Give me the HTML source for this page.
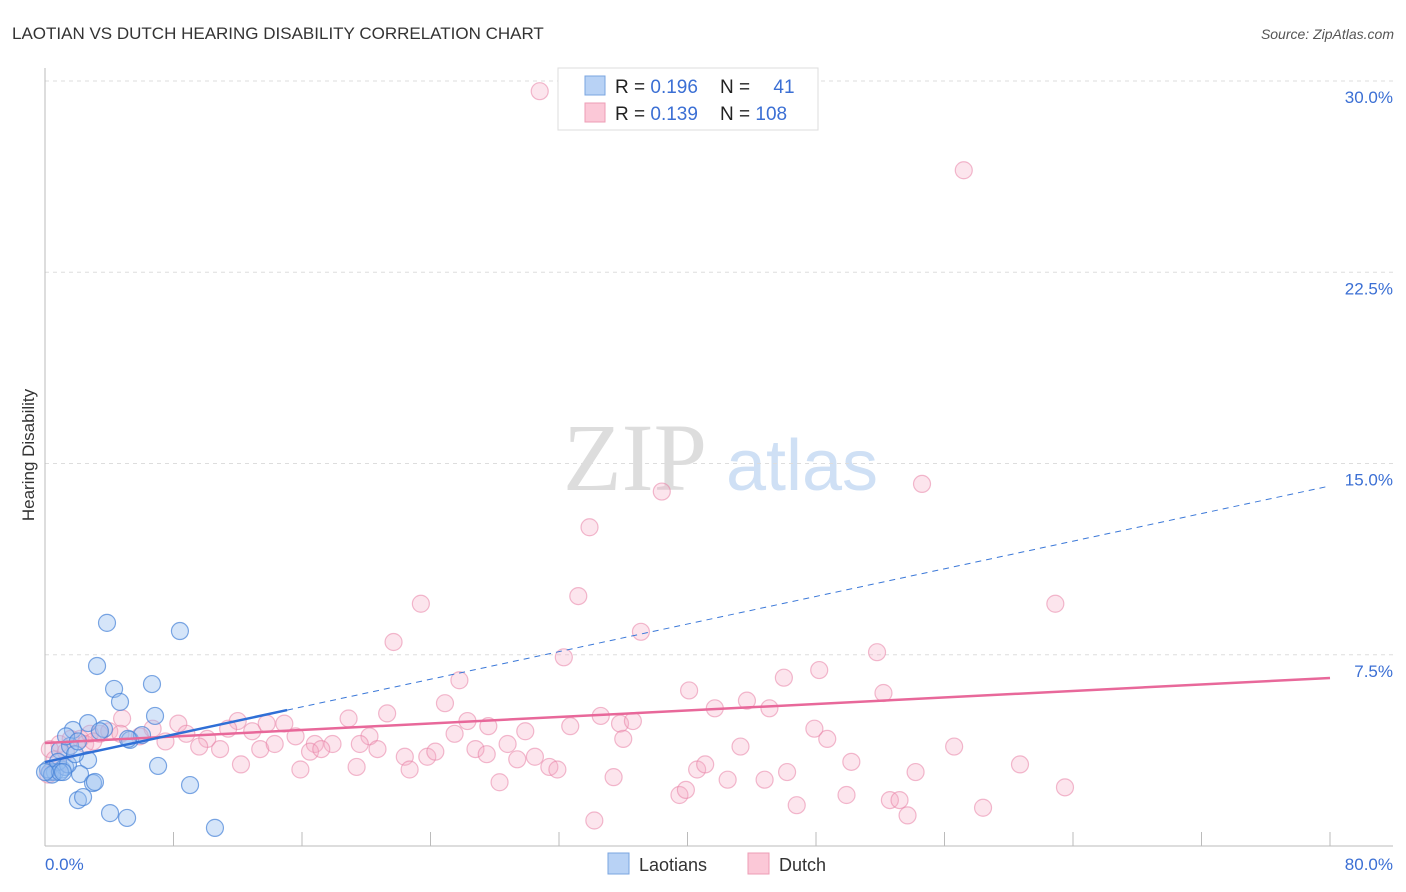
<!DOCTYPE html>
<html><head><meta charset="utf-8"><style>
body{margin:0;background:#fff;font-family:"Liberation Sans",sans-serif}
svg{display:block}
</style></head><body>
<svg id="chart" width="1406" height="892" viewBox="0 0 1406 892">
<text x="12" y="39" font-size="17" fill="#333">LAOTIAN VS DUTCH HEARING DISABILITY CORRELATION CHART</text>
<text x="1394" y="39" font-size="14" fill="#555" font-style="italic" text-anchor="end">Source: ZipAtlas.com</text>
<g>
<text x="635" y="490" font-size="96" fill="#ddd" font-family="Liberation Serif,serif" text-anchor="middle">ZIP</text>
<text x="802" y="490" font-size="72" fill="#cfe0f5" text-anchor="middle">atlas</text>
</g>
<g id="grid"></g>
<g id="pts"></g>
<g id="lines"></g>
<text transform="translate(34,455) rotate(-90)" font-size="17" fill="#333" text-anchor="middle">Hearing Disability</text>
<text x="45" y="870" font-size="17" fill="#3b6fd4">0.0%</text>
<text x="1393" y="870" font-size="17" fill="#3b6fd4" text-anchor="end">80.0%</text>
<g>
<rect x="558" y="68" width="260" height="62" fill="#fff" stroke="#ddd"/>
<rect x="585" y="76" width="20" height="19" fill="#b8d2f5" stroke="#7aa5e0"/>
<rect x="585" y="103" width="20" height="19" fill="#fbc8d7" stroke="#ee9db5"/>
<text x="615" y="93" font-size="19" fill="#222">R = <tspan fill="#3b6fd4">0.196</tspan></text>
<text x="720" y="93" font-size="19" fill="#222">N = <tspan fill="#3b6fd4" dx="18">41</tspan></text>
<text x="615" y="120" font-size="19" fill="#222">R = <tspan fill="#3b6fd4">0.139</tspan></text>
<text x="720" y="120" font-size="19" fill="#222">N = <tspan fill="#3b6fd4">108</tspan></text>
</g>
<g>
<rect x="608" y="853" width="21" height="21" fill="#b8d2f5" stroke="#7aa5e0"/>
<text x="639" y="871" font-size="18" fill="#333">Laotians</text>
<rect x="748" y="853" width="21" height="21" fill="#fbc8d7" stroke="#ee9db5"/>
<text x="779" y="871" font-size="18" fill="#333">Dutch</text>
</g>
</svg>
<script>
const yTicks=[7.5,15,22.5,30];
const yTickLabels=["7.5%","15.0%","22.5%","30.0%"];
const xTicks=[0,8,16,24,32,40,48,56,64,72,80];
const blueX=[3.86,8.40,3.24,4.30,6.66,4.67,6.85,1.74,2.68,3.67,0.93,1.56,2.68,5.29,6.04,7.04,2.18,2.99,3.11,9.03,2.05,2.37,4.05,5.11,10.58,0.31,0.62,1.06,1.25,0.19,0.81,1.43,1.87,1.31,5.17,3.42,2.05,0.44,0.93,0.0,1.12];
const blueY=[8.75,8.43,7.06,6.16,6.35,5.65,5.10,4.55,4.82,4.59,3.76,3.92,3.37,4.16,4.35,3.14,2.82,2.47,2.51,2.39,1.80,1.92,1.29,1.10,0.71,2.9,2.9,3.0,3.1,3.0,3.3,3.2,3.6,4.3,4.2,4.5,4.1,2.8,2.9,2.9,2.9];
const pinkX=[30.8,57.2,38.4,54.6,33.9,33.2,23.4,62.9,37.1,21.7,32.3,51.8,48.2,25.8,46.0,40.1,52.2,24.9,43.7,41.7,45.1,4.8,21.3,34.6,8.3,12.0,13.8,14.9,18.9,26.3,27.6,32.7,35.8,36.6,29.9,47.9,6.7,8.8,10.1,11.4,12.9,15.6,16.8,17.9,20.2,25.5,26.8,28.8,36.0,48.7,56.6,43.3,9.6,10.9,13.4,14.3,16.5,17.2,19.6,20.7,22.4,23.8,24.3,27.5,30.5,29.4,31.4,31.9,50.2,60.7,12.2,15.9,19.4,22.7,40.6,41.1,35.4,42.5,44.8,46.2,54.2,28.3,39.5,39.9,46.8,49.9,52.6,53.2,53.7,58.4,63.5,34.2,0.9,1.6,2.2,2.8,3.4,4.0,4.7,5.9,7.5,0.3,0.6,0.2,0.8,1.3,2.5,3.0];
const pinkY=[29.6,26.5,13.9,14.2,12.5,9.8,9.5,9.5,8.4,8.0,7.4,7.6,6.9,6.5,6.6,6.1,6.0,5.6,5.7,5.4,5.4,5.0,5.2,5.1,4.8,4.9,4.8,4.8,5.0,4.9,4.7,4.7,4.8,4.9,4.5,4.6,4.6,4.4,4.2,4.6,4.5,4.3,4.0,4.0,4.3,4.4,3.8,4.0,4.2,4.2,3.9,3.9,3.9,3.8,3.8,4.0,3.7,3.8,4.0,3.8,3.5,3.5,3.7,3.6,3.5,3.4,3.1,3.0,3.3,3.2,3.2,3.0,3.1,3.0,3.0,3.2,2.7,2.6,2.6,2.9,2.9,2.5,2.0,2.2,1.6,2.0,1.8,1.8,1.2,1.5,2.3,1.0,4.0,4.2,4.2,4.4,4.4,4.5,4.4,4.3,4.1,3.8,3.4,2.8,3.1,3.7,4.0,4.1];
const blueTrend=[3.29,5.33,14.12];
const blueSolidEnd=15.07;
const pinkTrend=[4.04,6.59];
const X=v=>45+v/80*1285, Y=v=>846-v*25.5;
const NS="http://www.w3.org/2000/svg";
function mk(tag,attrs,parent){const e=document.createElementNS(NS,tag);for(const k in attrs)e.setAttribute(k,attrs[k]);parent.appendChild(e);return e;}
const grid=document.getElementById('grid'),pts=document.getElementById('pts'),lines=document.getElementById('lines'),svg=document.getElementById('chart');
yTicks.forEach((t,i)=>{
 const l=mk('line',{x1:45,x2:1393,y1:Y(t),y2:Y(t),stroke:'#ddd','stroke-dasharray':'4 4'},grid);
 
 
 const tx=mk('text',{x:1393,y:Y(t)+22,'font-size':17,fill:'#3b6fd4','text-anchor':'end'},svg);
 tx.textContent=yTickLabels[i];
 
 
});
const ax=mk('line',{x1:45,x2:1393,y1:846,y2:846,stroke:'#bbb'},grid);


const ay=mk('line',{x1:45,x2:45,y1:68,y2:846,stroke:'#bbb'},grid);


xTicks.forEach(t=>{
 const l=mk('line',{x1:X(t),x2:X(t),y1:832,y2:846,stroke:'#bbb'},grid);
 
 
});
pinkX.forEach((x,i)=>{
 const c=mk('circle',{cx:X(x),cy:Y(pinkY[i]),r:8.5,fill:'rgba(246,170,195,0.3)',stroke:'rgba(232,130,165,0.55)','stroke-width':1.2},pts);
 
 
});
blueX.forEach((x,i)=>{
 const c=mk('circle',{cx:X(x),cy:Y(blueY[i]),r:8.5,fill:'rgba(150,190,240,0.4)',stroke:'rgba(70,130,215,0.7)','stroke-width':1.2},pts);
 
 
});
const bd=mk('line',{x1:X(blueSolidEnd),y1:Y(blueTrend[1]),x2:X(80),y2:Y(blueTrend[2]),stroke:'#3b78d8','stroke-width':1,'stroke-dasharray':'6 5'},lines);


const pl=mk('line',{x1:X(0),y1:Y(pinkTrend[0]),x2:X(80),y2:Y(pinkTrend[1]),stroke:'#e8689a','stroke-width':2.5},lines);


const bl=mk('line',{x1:X(0),y1:Y(blueTrend[0]),x2:X(blueSolidEnd),y2:Y(blueTrend[1]),stroke:'#2f6fd6','stroke-width':2.5},lines);


</script>
</body></html>
